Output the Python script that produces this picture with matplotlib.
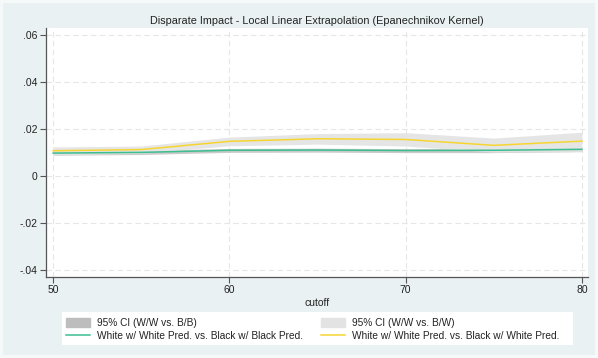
import matplotlib.pyplot as plt
import matplotlib.patches as mpatches
from matplotlib.lines import Line2D

plt.rcParams['font.family'] = ['Liberation Sans', 'DejaVu Sans']

cutoff = [50, 55, 60, 65, 70, 75, 80]

# white w/ white pred. vs black w/ black pred.
ww_bb = [0.0099, 0.0102, 0.0111, 0.0112, 0.0110, 0.0111, 0.0115]
ww_bb_lo = [0.0090, 0.0093, 0.0102, 0.0103, 0.0101, 0.0101, 0.0105]
ww_bb_hi = [0.0107, 0.0110, 0.0119, 0.0120, 0.0118, 0.0119, 0.0123]

# white w/ white pred. vs black w/ white pred.
ww_bw = [0.0109, 0.0114, 0.0149, 0.0160, 0.0157, 0.0132, 0.0150]
ww_bw_lo = [0.0091, 0.0098, 0.0130, 0.0137, 0.0129, 0.0103, 0.0106]
ww_bw_hi = [0.0125, 0.0129, 0.0167, 0.0182, 0.0186, 0.0163, 0.0188]

yticks = [-0.04, -0.02, 0, 0.02, 0.04, 0.06]
ytick_labels = ['-.04', '-.02', '0', '.02', '.04', '.06']
xticks = [50, 60, 70, 80]

bg = '#EAF1F3'
dark_ci = '#BDBDBD'
light_ci = '#E3E3E3'
green = '#3DBE8F'
yellow = '#F7D531'

fig = plt.figure(figsize=(5.98, 3.58), dpi=100, facecolor=bg,
                 edgecolor='#F6F9FA', linewidth=3)
ax = fig.add_axes([0.077, 0.226, 0.906, 0.696])
ax.set_facecolor('white')

ax.fill_between(cutoff, ww_bb_lo, ww_bb_hi, color=dark_ci, alpha=0.8, lw=0, zorder=2)
ax.fill_between(cutoff, ww_bw_lo, ww_bw_hi, color=light_ci, alpha=0.9, lw=0, zorder=3)
ax.plot(cutoff, ww_bb, color=green, lw=1.1, zorder=4)
ax.plot(cutoff, ww_bw, color=yellow, lw=1.1, zorder=4)

ax.set_xlim(49.6, 80.34)
ax.set_ylim(-0.0429, 0.0632)
ax.set_xticks(xticks)
ax.set_yticks(yticks)
ax.set_yticklabels(ytick_labels)
ax.tick_params(labelsize=7.5, color='#555555', length=4, width=0.8, pad=2, labelcolor='#222222')
ax.grid(True, color='#E6E6E6', ls=(0, (5, 3)), lw=0.8, zorder=1)
ax.set_axisbelow(True)
for s in ['top', 'right']:
    ax.spines[s].set_visible(False)
for s in ['left', 'bottom']:
    ax.spines[s].set_color('#555555')
    ax.spines[s].set_linewidth(0.9)

ax.set_title('Disparate Impact - Local Linear Extrapolation (Epanechnikov Kernel)',
             fontsize=7.8, color='#222222', pad=3)
ax.set_xlabel('cutoff', fontsize=7.5, color='#222222', labelpad=2)

# white box behind the legend
fig.patches.append(mpatches.Rectangle((0.104, 0.036), 0.854, 0.092,
                                      transform=fig.transFigure, facecolor='white',
                                      edgecolor='none', zorder=0))

handles = [
    mpatches.Patch(color=dark_ci),
    Line2D([], [], color=green, lw=1.1),
    mpatches.Patch(color=light_ci),
    Line2D([], [], color=yellow, lw=1.1),
]
labels = [
    '95% CI (W/W vs. B/B)',
    'White w/ White Pred. vs. Black w/ Black Pred.',
    '95% CI (W/W vs. B/W)',
    'White w/ White Pred. vs. Black w/ White Pred.',
]
leg = fig.legend(handles, labels, ncol=2, loc='lower left',
                 bbox_to_anchor=(0.104, 0.036, 0.838, 0.092), mode='expand',
                 fontsize=7.3, frameon=False, handlelength=2.3,
                 handleheight=1.0, labelspacing=0.3, borderpad=0.4,
                 borderaxespad=0, handletextpad=0.7)
for t in leg.get_texts():
    t.set_color('#222222')

fig.savefig('out.png', dpi=100, facecolor=bg, edgecolor=fig.get_edgecolor())
